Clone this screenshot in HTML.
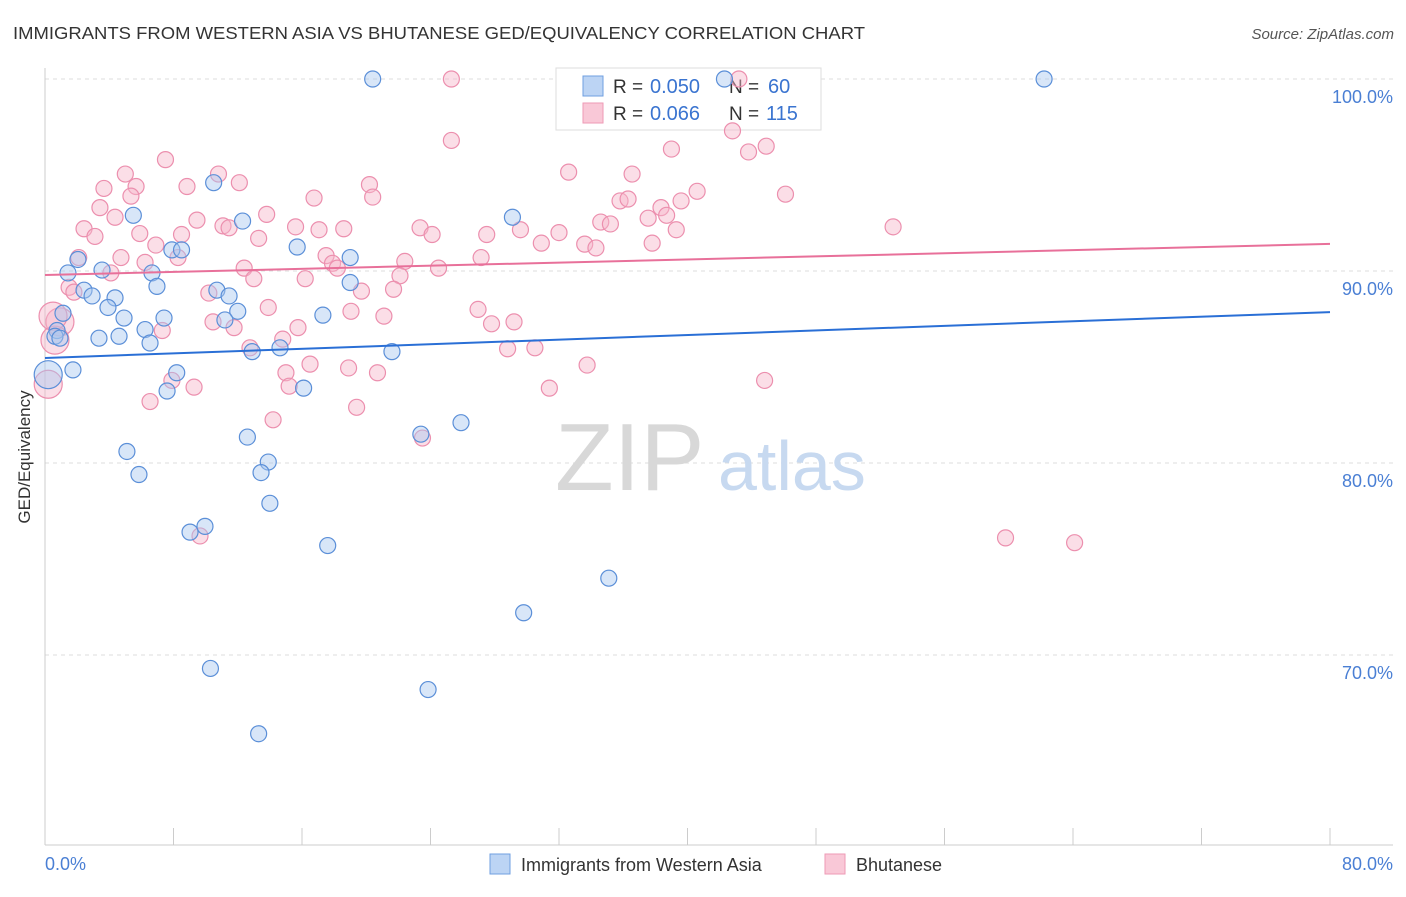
<!DOCTYPE html>
<html><head><meta charset="utf-8"><style>
body{margin:0;background:#fff;font-family:"Liberation Sans",sans-serif}
svg text{font-family:"Liberation Sans",sans-serif}
</style></head><body>
<svg id="chart" width="1406" height="892">
<text x="13" y="39" font-size="17.5" fill="#333" textLength="852" lengthAdjust="spacingAndGlyphs">IMMIGRANTS FROM WESTERN ASIA VS BHUTANESE GED/EQUIVALENCY CORRELATION CHART</text>
<text x="1394" y="39" font-size="15" fill="#555" font-style="italic" text-anchor="end">Source: ZipAtlas.com</text>
<text x="30" y="457" font-size="17" fill="#333" text-anchor="middle" transform="rotate(-90 30 457)">GED/Equivalency</text>
<g id="grid"></g>
<g>
<text x="555" y="490" font-size="96" fill="#d8d8d8" font-family="Liberation Serif">ZIP</text>
<text x="718" y="490" font-size="70" fill="#c7d9f0">atlas</text>
</g>
<g>
<rect x="556" y="68" width="265" height="62" fill="#fff" stroke="#ddd"/>
<rect x="583" y="76" width="20" height="20" fill="#bcd4f4" stroke="#6f9fe0"/>
<rect x="583" y="103" width="20" height="20" fill="#f9c8d7" stroke="#ee9ab5"/>
<text x="613" y="93" font-size="19" fill="#333">R =</text>
<text x="650" y="93" font-size="20" fill="#3a74d0">0.050</text>
<text x="729" y="93" font-size="19" fill="#333">N =</text>
<text x="768" y="93" font-size="20" fill="#3a74d0">60</text>
<text x="613" y="120" font-size="19" fill="#333">R =</text>
<text x="650" y="120" font-size="20" fill="#3a74d0">0.066</text>
<text x="729" y="120" font-size="19" fill="#333">N =</text>
<text x="766" y="120" font-size="20" fill="#3a74d0">115</text>
</g>
<g id="pts"></g>
<g id="lines"></g>
<g>
<rect x="490" y="854" width="20" height="20" fill="#bcd4f4" stroke="#6f9fe0"/>
<text x="521" y="871" font-size="18" fill="#333">Immigrants from Western Asia</text>
<rect x="825" y="854" width="20" height="20" fill="#f9c8d7" stroke="#ee9ab5"/>
<text x="856" y="871" font-size="18" fill="#333">Bhutanese</text>
</g>
</svg>
<script>
const yTicks=[100,90,80,70];
const yTickLabels=["100.0%","90.0%","80.0%","70.0%"];
const xTicks=[0,8,16,24,32,40,48,56,64,72,80];
const xTickLabels=["0.0%","80.0%"];
const blueX=[20.4,42.3,62.2,10.5,5.5,12.3,29.1,15.7,7.9,8.5,19.0,2.05,1.43,3.55,6.66,19.0,6.97,2.43,2.93,4.36,10.7,11.46,3.92,12.0,1.12,17.3,4.92,7.41,11.2,0.75,6.23,0.62,0.93,3.36,4.61,6.54,14.63,12.9,21.6,1.74,0.2,8.2,7.6,16.1,25.9,23.4,12.6,5.1,13.9,5.85,13.45,14.0,9.03,9.96,17.6,35.1,29.8,10.3,23.85,13.3];
const blueY=[100,100,100,94.6,92.9,92.6,92.8,91.25,91.1,91.1,90.7,90.6,89.9,90.05,89.9,89.4,89.2,89.0,88.7,88.6,89.0,88.7,88.1,87.9,87.8,87.7,87.55,87.55,87.45,86.9,86.95,86.6,86.5,86.5,86.6,86.25,86.0,85.8,85.8,84.85,84.6,84.7,83.75,83.9,82.1,81.5,81.35,80.6,80.05,79.4,79.5,77.9,76.4,76.7,75.7,74.0,72.2,69.3,68.2,65.9];
const blueBig=[40];
const pinkX=[25.3,43.2,25.3,42.8,39.0,43.8,44.9,7.5,5.0,10.8,32.6,36.55,3.67,5.67,8.84,12.1,20.2,5.35,20.4,16.75,40.6,46.1,3.42,4.36,9.46,11.08,13.8,15.6,11.46,18.6,23.35,24.1,27.5,29.6,34.6,35.2,35.8,36.3,37.55,38.35,38.7,39.6,39.3,52.8,2.43,3.11,5.9,8.5,13.3,17.06,32.0,30.9,33.6,34.3,37.8,6.9,8.28,6.23,2.1,4.73,17.5,22.4,27.15,12.4,4.1,13.0,17.9,18.2,16.2,22.1,24.5,21.7,19.7,1.5,1.8,10.2,13.9,19.05,21.1,26.96,27.8,29.2,10.46,11.77,15.75,14.8,7.3,0.93,0.62,12.76,28.8,30.5,33.75,16.5,18.9,20.7,7.9,9.28,15.0,15.2,31.4,44.8,6.54,19.4,14.2,23.5,9.65,59.8,64.1,0.2,0.5];
const pinkY=[100,100,96.8,97.3,96.35,96.2,96.5,95.8,95.05,95.05,95.15,95.05,94.3,94.4,94.4,94.6,94.5,93.9,93.85,93.8,94.15,94.0,93.3,92.8,92.65,92.35,92.95,92.3,92.25,92.2,92.25,91.9,91.9,92.15,92.55,92.45,93.65,93.75,92.75,93.3,92.9,93.65,92.15,92.3,92.2,91.8,91.95,91.9,91.7,92.15,92.0,91.45,91.4,91.2,91.45,91.35,90.7,90.45,90.7,90.7,90.8,90.5,90.7,90.15,89.9,89.6,90.4,90.15,89.6,89.75,90.15,89.05,88.95,89.15,88.9,88.85,88.1,87.9,87.65,88.0,87.25,87.35,87.35,87.05,87.05,86.45,86.9,87.35,86.4,86.0,85.95,86.0,85.1,85.15,84.95,84.7,84.3,83.95,84.7,84.0,83.9,84.3,83.2,82.9,82.25,81.3,76.2,76.1,75.85,84.1,87.65];
const pinkBig=[87,88,109,110];
const blueTrend=[85.47,87.86];
const pinkTrend=[89.79,91.41];
const NS="http://www.w3.org/2000/svg";
const X=v=>45+v*(1285/80);
const Y=v=>79+(100-v)*19.2;
function mk(t,a,p){const e=document.createElementNS(NS,t);for(const k in a)e.setAttribute(k,a[k]);p.appendChild(e);return e;}
const grid=document.getElementById('grid');
yTicks.forEach((t,i)=>{
 const l=mk('line',{x1:45,x2:1393,y1:Y(t),y2:Y(t),stroke:'#ddd','stroke-dasharray':'4,4'},grid);
 
 
 const tx=mk('text',{x:1393,y:Y(t)+24,'font-size':18,fill:'#4a7fd4','text-anchor':'end'},grid);
 tx.textContent=yTickLabels[i];
 
 
});
const ax=mk('line',{x1:45,x2:45,y1:68,y2:845,stroke:'#ccc'},grid);


const bx=mk('line',{x1:45,x2:1393,y1:845,y2:845,stroke:'#ccc'},grid);


xTicks.forEach(t=>{
 const l=mk('line',{x1:X(t),x2:X(t),y1:828,y2:845,stroke:'#ccc'},grid);
 
 
});
const xl0=mk('text',{x:45,y:870,'font-size':18,fill:'#4a7fd4'},grid);xl0.textContent=xTickLabels[0];


const xl1=mk('text',{x:1393,y:870,'font-size':18,fill:'#4a7fd4','text-anchor':'end'},grid);xl1.textContent=xTickLabels[1];


const pts=document.getElementById('pts');
function series(xs,ys,big,fill,stroke,name){
 xs.forEach((x,i)=>{
  const r=big.includes(i)?14:8;
  const c=mk('circle',{cx:X(x),cy:Y(ys[i]),r:r,fill:fill,'fill-opacity':0.45,stroke:stroke,'stroke-width':1.2},pts);
  
  
 });
}
series(pinkX,pinkY,pinkBig,'#f7b6ca','#ec8fae','bhutanese-point');
series(blueX,blueY,blueBig,'#a9c8f0','#5b8fd8','western-asia-point');
const lines=document.getElementById('lines');
const bl=mk('line',{x1:X(0),x2:X(80),y1:Y(blueTrend[0]),y2:Y(blueTrend[1]),stroke:'#2a6fd6','stroke-width':2},lines);


const pl=mk('line',{x1:X(0),x2:X(80),y1:Y(pinkTrend[0]),y2:Y(pinkTrend[1]),stroke:'#e8709a','stroke-width':2},lines);


</script>
</body></html>
